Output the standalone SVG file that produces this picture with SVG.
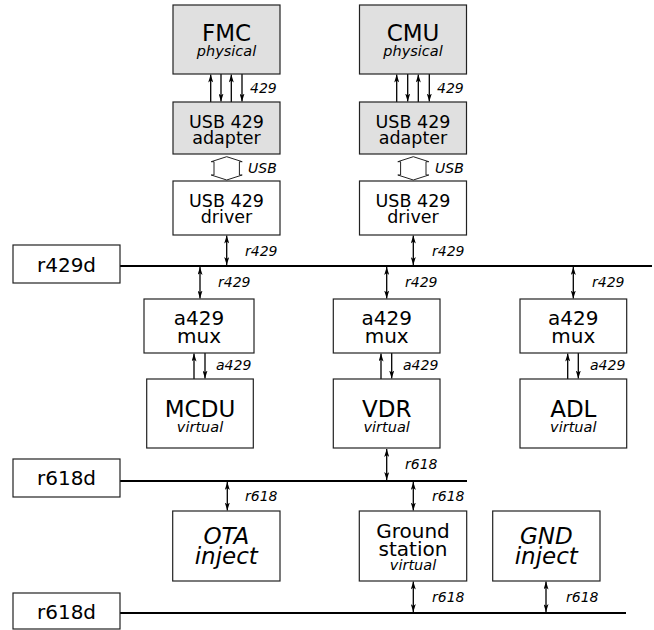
<svg xmlns="http://www.w3.org/2000/svg" width="654" height="630" viewBox="0 0 654 630">
<style>
text{font-family:"DejaVu Sans","Liberation Sans",sans-serif;fill:#000;text-anchor:middle}
.box{fill:#fff;stroke:#222;stroke-width:1.2}
.phys{fill:#e0e0e0;stroke:#222;stroke-width:1.2}
.big{font-size:23px}
.mid{font-size:20px}
.sm{font-size:17.5px}
.sub{font-size:14.5px;font-style:italic}
.ibig{font-size:23px;font-style:italic}
.lbl{font-size:14px;font-style:italic;text-anchor:start}
.bus{stroke:#000;stroke-width:2;fill:none}
.ar{stroke:#000;stroke-width:1.3;fill:none}
.a1{marker-end:url(#ah)}
.a2{marker-end:url(#ah);marker-start:url(#ah)}
.usb{fill:#fff;stroke:#222;stroke-width:1}
</style>
<defs>
<marker id="ah" viewBox="0 0 8 5" refX="8" refY="2.5" markerWidth="8" markerHeight="5" markerUnits="userSpaceOnUse" orient="auto-start-reverse">
<path d="M0,0 L8,2.5 L0,5 L2,2.5 z" fill="#000"/>
</marker>
</defs>

<g id="connectors">
<line class="bus" x1="120" y1="266" x2="652" y2="266"/>
<line class="bus" x1="120" y1="481" x2="467" y2="481"/>
<line class="bus" x1="120" y1="613" x2="626" y2="613"/>
<line class="ar a1" x1="210.7" y1="102" x2="210.7" y2="74.5"/>
<line class="ar a1" x1="221" y1="74" x2="221" y2="101.5"/>
<line class="ar a1" x1="231.3" y1="102" x2="231.3" y2="74.5"/>
<line class="ar a1" x1="242" y1="74" x2="242" y2="101.5"/>
<text class="lbl" x="250" y="93">429</text>
<line class="ar a1" x1="396.7" y1="102" x2="396.7" y2="74.5"/>
<line class="ar a1" x1="407.7" y1="74" x2="407.7" y2="101.5"/>
<line class="ar a1" x1="418.3" y1="102" x2="418.3" y2="74.5"/>
<line class="ar a1" x1="429.3" y1="74" x2="429.3" y2="101.5"/>
<text class="lbl" x="437" y="93">429</text>
<path class="usb" d="M226.7,156.7 L242.2,161.7 L239.4,161.7 L239.4,175 L242.2,175 L226.7,180 L211.2,175 L214,175 L214,161.7 L211.2,161.7 Z"/>
<text class="lbl" x="248" y="173">USB</text>
<path class="usb" d="M413.3,156.7 L428.8,161.7 L426,161.7 L426,175 L428.8,175 L413.3,180 L397.8,175 L400.6,175 L400.6,161.7 L397.8,161.7 Z"/>
<text class="lbl" x="435" y="173">USB</text>
<line class="ar a2" x1="226.7" y1="235.5" x2="226.7" y2="265"/>
<text class="lbl" x="245" y="256">r429</text>
<line class="ar a2" x1="413.3" y1="235.5" x2="413.3" y2="265"/>
<text class="lbl" x="432" y="256">r429</text>
<line class="ar a2" x1="200" y1="267" x2="200" y2="298.5"/>
<text class="lbl" x="218" y="287">r429</text>
<line class="ar a2" x1="386.7" y1="267" x2="386.7" y2="298.5"/>
<text class="lbl" x="405" y="287">r429</text>
<line class="ar a2" x1="573.3" y1="267" x2="573.3" y2="298.5"/>
<text class="lbl" x="592" y="287">r429</text>
<line class="ar a1" x1="194" y1="379" x2="194" y2="353.5"/>
<line class="ar a1" x1="205" y1="353" x2="205" y2="378.5"/>
<text class="lbl" x="216" y="370">a429</text>
<line class="ar a1" x1="381" y1="379" x2="381" y2="353.5"/>
<line class="ar a1" x1="391.7" y1="353" x2="391.7" y2="378.5"/>
<text class="lbl" x="403" y="370">a429</text>
<line class="ar a1" x1="567.7" y1="379" x2="567.7" y2="353.5"/>
<line class="ar a1" x1="578.3" y1="353" x2="578.3" y2="378.5"/>
<text class="lbl" x="590" y="370">a429</text>
<line class="ar a2" x1="386.7" y1="449" x2="386.7" y2="480"/>
<text class="lbl" x="405" y="469">r618</text>
<line class="ar a2" x1="227.3" y1="482" x2="227.3" y2="510.5"/>
<text class="lbl" x="245" y="501">r618</text>
<line class="ar a2" x1="413.3" y1="482" x2="413.3" y2="510.5"/>
<text class="lbl" x="432" y="501">r618</text>
<line class="ar a2" x1="413.3" y1="581.5" x2="413.3" y2="612"/>
<text class="lbl" x="432" y="602">r618</text>
<line class="ar a2" x1="546" y1="581.5" x2="546" y2="612"/>
<text class="lbl" x="566" y="602">r618</text>
</g>

<g id="fmc"><rect class="phys" x="173" y="5" width="107" height="69"/><text x="226.5" y="41"><tspan class="big">FMC</tspan><tspan class="sub" x="226.5" y="56">physical</tspan></text></g>
<g id="cmu"><rect class="phys" x="359.5" y="5" width="107" height="69"/><text x="413" y="41"><tspan class="big">CMU</tspan><tspan class="sub" x="413" y="56">physical</tspan></text></g>
<g id="fmc-adapter"><rect class="phys" x="173" y="102" width="107" height="52"/><text class="sm" x="226.5" y="127.5">USB 429<tspan x="226.5" y="143.5">adapter</tspan></text></g>
<g id="cmu-adapter"><rect class="phys" x="359.5" y="102" width="107" height="52"/><text class="sm" x="413" y="127.5">USB 429<tspan x="413" y="143.5">adapter</tspan></text></g>
<g id="fmc-driver"><rect class="box" x="173" y="181" width="107" height="54"/><text class="sm" x="226.5" y="206.5">USB 429<tspan x="226.5" y="222.5">driver</tspan></text></g>
<g id="cmu-driver"><rect class="box" x="359.5" y="181" width="107" height="54"/><text class="sm" x="413" y="206.5">USB 429<tspan x="413" y="222.5">driver</tspan></text></g>
<g id="r429d"><rect class="box" x="13" y="245" width="107" height="38"/><text class="mid" x="66.5" y="271.5">r429d</text></g>
<g id="mux1"><rect class="box" x="144" y="299" width="110" height="54"/><text class="mid" x="199" y="325">a429<tspan x="199" y="342.5">mux</tspan></text></g>
<g id="mux2"><rect class="box" x="333.3" y="299" width="106.7" height="54"/><text class="mid" x="386.7" y="325">a429<tspan x="386.7" y="342.5">mux</tspan></text></g>
<g id="mux3"><rect class="box" x="520" y="299" width="106.7" height="54"/><text class="mid" x="573.3" y="325">a429<tspan x="573.3" y="342.5">mux</tspan></text></g>
<g id="mcdu"><rect class="box" x="146.7" y="379" width="106.6" height="69"/><text x="200" y="416.5"><tspan class="big">MCDU</tspan><tspan class="sub" x="200" y="431.5">virtual</tspan></text></g>
<g id="vdr"><rect class="box" x="333.3" y="379" width="106.7" height="69"/><text x="386.7" y="416.5"><tspan class="big">VDR</tspan><tspan class="sub" x="386.7" y="431.5">virtual</tspan></text></g>
<g id="adl"><rect class="box" x="520" y="379" width="106.7" height="69"/><text x="573.3" y="416.5"><tspan class="big">ADL</tspan><tspan class="sub" x="573.3" y="431.5">virtual</tspan></text></g>
<g id="r618d-1"><rect class="box" x="13" y="459" width="107" height="38"/><text class="mid" x="66.5" y="485">r618d</text></g>
<g id="ota"><rect class="box" x="172.7" y="511" width="107.3" height="70"/><text class="ibig" x="226.3" y="544">OTA<tspan x="226.3" y="564">inject</tspan></text></g>
<g id="ground"><rect class="box" x="359.3" y="511" width="107.4" height="70"/><text x="413" y="537.5"><tspan class="mid">Ground</tspan><tspan class="mid" x="413" y="556">station</tspan><tspan class="sub" x="413" y="570">virtual</tspan></text></g>
<g id="gnd"><rect class="box" x="492.7" y="511" width="107.3" height="70"/><text class="ibig" x="546.3" y="544">GND<tspan x="546.3" y="564">inject</tspan></text></g>
<g id="r618d-2"><rect class="box" x="13" y="593" width="107" height="36"/><text class="mid" x="66.5" y="618.5">r618d</text></g>
</svg>
